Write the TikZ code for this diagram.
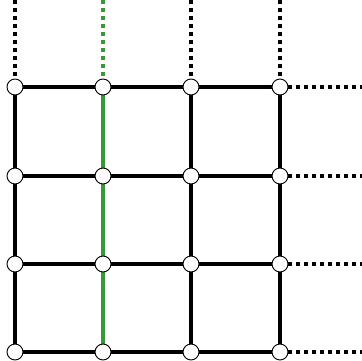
\documentclass[tikz,border=0pt]{standalone}
\definecolor{gridgreen}{RGB}{57,153,57}
\begin{document}
\begin{tikzpicture}[x=1pt,y=-1pt,
  vtx/.style={circle,draw=black,fill=white,line width=0.9pt,inner sep=0pt,minimum size=16pt},
  edge/.style={line width=4pt,black},
  gedge/.style={line width=4pt,gridgreen},
  dots/.style={line width=4pt,dash pattern=on 4pt off 4pt}]
\useasboundingbox (0,0) rectangle (362,360);
% coordinates
\foreach \i/\x in {1/15,2/103,3/191,4/280}{
  \foreach \j/\y in {1/87,2/176,3/264,4/352}{
    \coordinate (p\i\j) at (\x,\y);
  }
  \coordinate (t\i) at (\x,0);
}
\foreach \j/\y in {1/87,2/176,3/264,4/352}{
  \coordinate (r\j) at (362,\y);
}
% horizontal edges
\foreach \j in {1,2,3,4}{
  \draw[edge] (p1\j) -- (p2\j) -- (p3\j) -- (p4\j);
  \draw[dots] (p4\j) -- (r\j);
}
% vertical edges
\foreach \i in {1,3,4}{
  \draw[edge] (p\i1) -- (p\i4);
  \draw[dots] (t\i) -- (p\i1);
}
\draw[gedge] (p21) -- (p24);
\draw[dots,gridgreen] (t2) -- (p21);
% nodes
\foreach \i in {1,2,3,4}{
  \foreach \j in {1,2,3,4}{
    \node[vtx] (n\i\j) at (p\i\j) {};
  }
}
\end{tikzpicture}
\end{document}
